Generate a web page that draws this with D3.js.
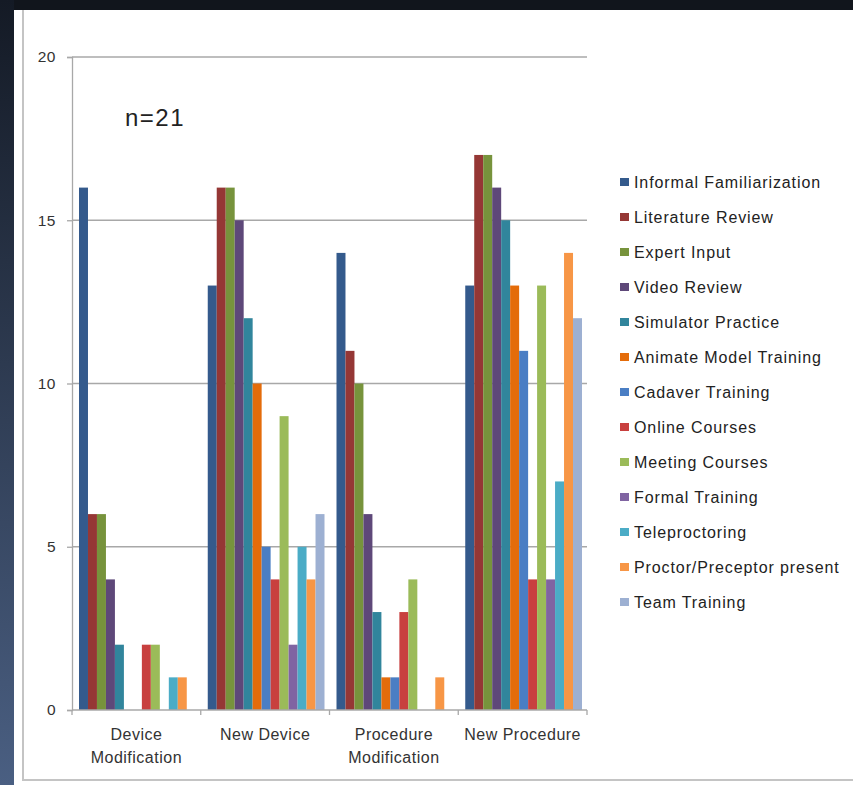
<!DOCTYPE html>
<html>
<head>
<meta charset="utf-8">
<script src="https://cdn.jsdelivr.net/npm/d3@7"></script>
<style>
  body { margin: 0; background: #11151c; }
  svg { display: block; }
</style>
</head>
<body>
<div id="chart"></div>
<script>
var categories = [["Device", "Modification"], ["New Device"], ["Procedure", "Modification"], ["New Procedure"]];

var seriesNames = ["Informal Familiarization", "Literature Review", "Expert Input", "Video Review",
  "Simulator Practice", "Animate Model Training", "Cadaver Training", "Online Courses",
  "Meeting Courses", "Formal Training", "Teleproctoring", "Proctor/Preceptor present", "Team Training"];

// one list per category, in series order
var deviceModification = [16, 6, 6, 4, 2, 0, 0, 2, 2, 0, 1, 1, 0];
var newDevice = [13, 16, 16, 15, 12, 10, 5, 4, 9, 2, 5, 4, 6];
var procedureModification = [14, 11, 10, 6, 3, 1, 1, 3, 4, 0, 0, 1, 0];
var newProcedure = [13, 17, 17, 16, 15, 13, 11, 4, 13, 4, 7, 14, 12];

var yTicks = [0, 5, 10, 15, 20];

var colors = ["#345A8C", "#953735", "#77933C", "#5E4879", "#31859C", "#E46C0A", "#4A7EC4",
  "#C8403F", "#9BBB59", "#8064A2", "#4BACC6", "#F79646", "#9DB0D2"];

var table = [deviceModification, newDevice, procedureModification, newProcedure].map(function (vals, i) {
  return { key: i, label: categories[i], values: vals };
});

var W = 853, H = 785;
var font = "Liberation Sans, Arial, sans-serif";
var svg = d3.select("#chart").append("svg")
  .attr("width", W)
  .attr("height", H);

// frame around the slide
var grad = svg.append("defs").append("linearGradient")
  .attr("id", "side").attr("x1", 0).attr("y1", 0).attr("x2", 0).attr("y2", 1);
grad.append("stop").attr("offset", "0%").attr("stop-color", "#141a25");
grad.append("stop").attr("offset", "100%").attr("stop-color", "#4a5f82");
svg.append("rect").attr("x", 0).attr("y", 0).attr("width", 14).attr("height", H).attr("fill", "url(#side)");
svg.append("rect").attr("x", 14).attr("y", 10).attr("width", W - 14).attr("height", H - 10).attr("fill", "#fff");
svg.append("path")
  .attr("d", "M23,10V780H" + W)
  .attr("fill", "none")
  .attr("stroke", "#c4c4c4")
  .attr("stroke-width", 2);

var x0 = d3.scaleBand().domain(table.map(function (d) { return d.key; })).range([72, 587]);
var x1 = d3.scaleBand().domain(d3.range(seriesNames.length)).range([7, x0.bandwidth() - 5]);
var y = d3.scaleLinear().domain([0, 20]).range([710, 57]);

// gridlines
svg.append("g")
  .selectAll("line")
  .data(yTicks.slice(1))
  .enter().append("line")
  .attr("x1", 72).attr("x2", 587)
  .attr("y1", function (d) { return y(d); })
  .attr("y2", function (d) { return y(d); })
  .attr("stroke", "#a8a8a8")
  .attr("stroke-width", 1.3);

// bars
svg.append("g")
  .selectAll("g")
  .data(table)
  .enter().append("g")
  .attr("transform", function (d) { return "translate(" + x0(d.key) + ",0)"; })
  .selectAll("rect")
  .data(function (d) { return d.values.map(function (v, i) { return { i: i, v: v }; }); })
  .enter().append("rect")
  .attr("x", function (d) { return x1(d.i); })
  .attr("width", x1.bandwidth())
  .attr("y", function (d) { return y(d.v); })
  .attr("height", function (d) { return y(0) - y(d.v); })
  .attr("fill", function (d) { return colors[d.i]; });

// y axis
var yAxis = svg.append("g")
  .attr("transform", "translate(72,0)")
  .call(d3.axisLeft(y).tickValues(yTicks).tickSize(5).tickPadding(11));
yAxis.select(".domain").attr("stroke", "#a8a8a8").attr("stroke-width", 1.3);
yAxis.selectAll(".tick line").attr("stroke", "#a8a8a8").attr("stroke-width", 1.3);
yAxis.selectAll(".tick text")
  .attr("font-family", font)
  .attr("font-size", "15.5px")
  .attr("letter-spacing", "0.5px")
  .attr("fill", "#333");

// x axis
var xg = svg.append("g");
xg.append("line")
  .attr("x1", 72).attr("x2", 587).attr("y1", y(0)).attr("y2", y(0))
  .attr("stroke", "#a8a8a8").attr("stroke-width", 1.3);
xg.selectAll("line.tick")
  .data(table.map(function (d) { return x0(d.key); }).concat([587]))
  .enter().append("line")
  .attr("class", "tick")
  .attr("x1", function (d) { return d; }).attr("x2", function (d) { return d; })
  .attr("y1", y(0)).attr("y2", y(0) + 5)
  .attr("stroke", "#a8a8a8").attr("stroke-width", 1.3);
xg.selectAll("text")
  .data(table)
  .enter().append("text")
  .attr("x", function (d) { return x0(d.key) + x0.bandwidth() / 2; })
  .attr("y", 740)
  .attr("text-anchor", "middle")
  .attr("font-family", font)
  .attr("font-size", "16px")
  .attr("letter-spacing", "0.5px")
  .attr("fill", "#333")
  .selectAll("tspan")
  .data(function (d) { return d.label; })
  .enter().append("tspan")
  .attr("x", function () { return d3.select(this.parentNode).attr("x"); })
  .attr("dy", function (d, i) { return i ? 23 : 0; })
  .text(function (d) { return d; });

// n label
svg.append("text")
  .attr("x", 125).attr("y", 126)
  .attr("font-family", font)
  .attr("font-size", "24px")
  .attr("letter-spacing", "1.5px")
  .attr("fill", "#222")
  .text("n=21");

// legend
var legend = svg.append("g")
  .selectAll("g")
  .data(seriesNames)
  .enter().append("g")
  .attr("transform", function (d, i) { return "translate(620," + (182 + i * 35) + ")"; });
legend.append("rect")
  .attr("x", 0).attr("y", -4).attr("width", 9).attr("height", 8)
  .attr("fill", function (d, i) { return colors[i]; });
legend.append("text")
  .attr("x", 14).attr("y", 5.5)
  .attr("font-family", font)
  .attr("font-size", "16px")
  .attr("letter-spacing", "0.9px")
  .attr("fill", "#222")
  .text(function (d) { return d; });
</script>
</body>
</html>
